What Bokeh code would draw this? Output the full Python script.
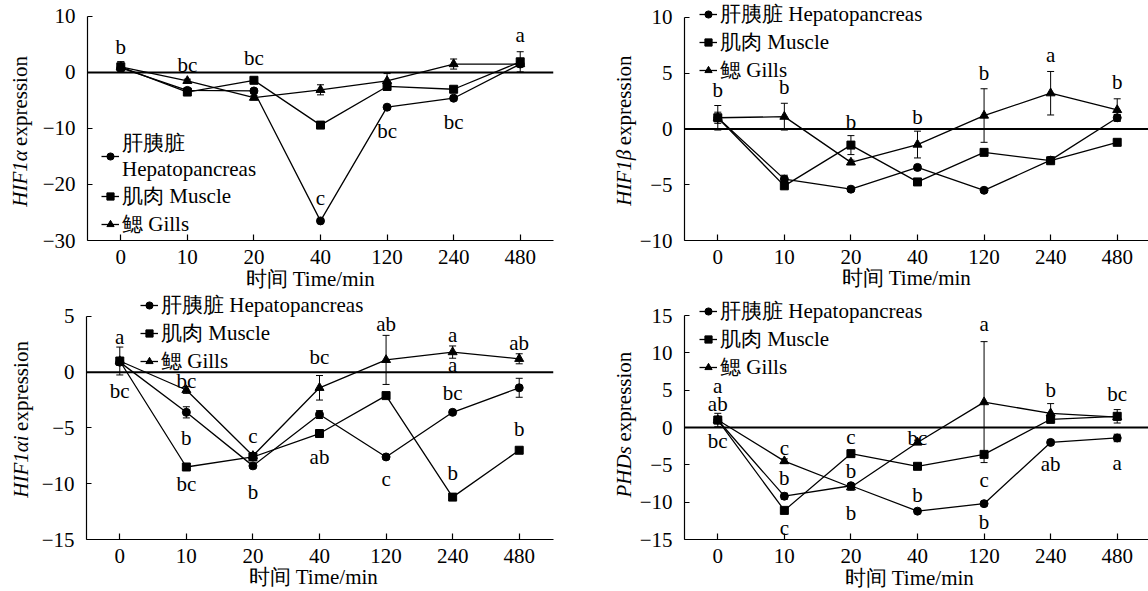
from bokeh.plotting import figure
from bokeh.models import (Range1d, FixedTicker, Span, Whisker, TeeHead, ColumnDataSource,
                          Label, Legend, LegendItem)
from bokeh.layouts import column, row
from bokeh.embed import file_html
from bokeh.resources import INLINE
from bokeh.core.properties import value

FONT = "Liberation Serif"
FS = "21px"

# ---------------- data ----------------
times = ["0", "10", "20", "40", "120", "240", "480"]
names = ["肝胰脏 Hepatopancreas", "肌肉 Muscle", "鳃 Gills"]
names_p1 = ["肝胰脏\nHepatopancreas", "肌肉 Muscle", "鳃 Gills"]

# Panel 1: HIF1α
hep1 = [0.8, -3.2, -3.3, -26.5, -6.2, -4.6, 1.5]
mus1 = [1.0, -3.5, -1.4, -9.4, -2.5, -3.0, 1.9]
gil1 = [1.0, -1.5, -4.5, -3.1, -1.5, 1.5, 1.5]
hep1_sd = [0.3, 0.3, 0.4, 0.4, 0.3, 0.4, 0.4]
mus1_sd = [0.9, 0.3, 0.3, 0.4, 0.5, 0.4, 1.8]
gil1_sd = [0.9, 0.3, 0.4, 0.9, 1.3, 0.9, 0.5]
let1_i = [0, 1, 2, 3, 4, 5, 6]
let1_y = [4.6, 1.3, 2.5, -22.4, -10.5, -8.9, 6.6]
let1_t = ["b", "bc", "bc", "c", "bc", "bc", "a"]

# Panel 2: HIF1β
hep2 = [1.0, -4.5, -5.4, -3.45, -5.5, -2.8, 1.0]
mus2 = [1.0, -5.1, -1.45, -4.75, -2.1, -2.85, -1.2]
gil2 = [1.0, 1.1, -3.0, -1.4, 1.2, 3.2, 1.7]
hep2_sd = [0.3, 0.35, 0.2, 0.2, 0.2, 0.2, 0.3]
mus2_sd = [1.1, 0.3, 0.85, 0.2, 0.2, 0.2, 0.2]
gil2_sd = [0.5, 1.2, 0.2, 1.2, 2.4, 1.95, 1.0]
let2_i = [0, 1, 2, 3, 4, 5, 6]
let2_y = [3.5, 3.8, 0.65, 1.1, 5.0, 6.6, 4.25]
let2_t = ["b", "b", "b", "b", "b", "a", "b"]

# Panel 3: HIF1αi
hep3 = [0.9, -3.6, -8.4, -3.8, -7.6, -3.6, -1.4]
mus3 = [1.0, -8.5, -7.6, -5.5, -2.1, -11.2, -7.0]
gil3 = [1.0, -1.6, -7.5, -1.4, 1.1, 1.8, 1.2]
hep3_sd = [0.3, 0.5, 0.2, 0.35, 0.2, 0.2, 0.85]
mus3_sd = [1.25, 0.2, 0.2, 0.2, 0.2, 0.2, 0.2]
gil3_sd = [0.3, 0.3, 0.3, 1.1, 2.2, 0.55, 0.45]
let3_i = [0, 0, 1, 1, 1, 2, 2, 3, 3, 4, 4, 5, 5, 5, 5, 6, 6]
let3_y = [3.15, -1.7, -0.8, -5.9, -10.0, -5.7, -10.7, 1.4, -7.6, 4.3, -9.6,
          3.35, 0.6, -1.85, -9.05, 2.6, -5.1]
let3_t = ["a", "bc", "bc", "b", "bc", "c", "b", "bc", "ab", "ab", "c",
          "a", "a", "bc", "b", "ab", "b"]

# Panel 4: PHDs
hep4 = [1.0, -9.2, -7.8, -11.2, -10.2, -2.0, -1.4]
mus4 = [1.0, -11.1, -3.5, -5.2, -3.6, 1.1, 1.5]
gil4 = [1.0, -4.5, -8.0, -2.0, 3.4, 1.9, 1.4]
hep4_sd = [0.3, 0.4, 0.3, 0.3, 0.3, 0.3, 0.5]
mus4_sd = [0.9, 0.4, 0.3, 0.3, 0.3, 0.3, 0.9]
gil4_sd = [0.5, 0.3, 0.4, 0.3, 8.1, 1.3, 0.4]
let4_i = [0, 0, 0, 1, 1, 1, 2, 2, 2, 3, 3, 4, 4, 4, 5, 5, 6, 6]
let4_y = [5.6, 3.2, -1.8, -2.7, -6.8, -13.5, -1.25, -5.8, -11.5, -1.4, -9.1,
          13.8, -7.05, -12.6, 5.0, -4.9, 4.55, -4.8]
let4_t = ["a", "ab", "bc", "c", "b", "c", "c", "b", "b", "bc", "b",
          "a", "c", "b", "b", "ab", "bc", "a"]

MINUS = "\u2212"


def make_panel(geom, yr, yticks, series, sds, letters, gene, ylab_x, ylab_start,
               title_text, title_x, title_y, legend_labels, legend_vy, legend_vx):
    W, Hh, L, T, FW, FH = geom
    x1 = -0.5 + FW / 66.57
    y0, y1 = yr
    # extend the frame up to the top of the canvas so that legends are not clipped
    y_top = y1 + T * (y1 - y0) / FH
    right_border = W - L - FW
    p = figure(width=W, height=Hh, output_backend="svg", toolbar_location=None,
               x_range=Range1d(-0.5, x1), y_range=Range1d(y0, y_top),
               min_border_left=L, min_border_top=0,
               min_border_right=right_border, min_border_bottom=Hh - T - FH)
    p.outline_line_color = None
    p.xgrid.visible = False
    p.ygrid.visible = False
    p.background_fill_color = "white"
    p.border_fill_color = "white"

    xs = list(range(len(times)))
    for ax in (p.xaxis[0], p.yaxis[0]):
        ax.axis_line_color = "black"
        ax.axis_line_width = 1.2
        ax.major_tick_line_color = "black"
        ax.major_tick_line_width = 1.2
        ax.minor_tick_line_color = None
        ax.major_tick_out = 0
        ax.major_label_text_font = FONT
        ax.major_label_text_font_size = FS
        ax.major_label_text_color = "black"
    p.xaxis.ticker = FixedTicker(ticks=xs)
    p.xaxis.major_label_overrides = {i: t for i, t in zip(xs, times)}
    p.xaxis.major_tick_in = 6
    p.xaxis.major_label_standoff = 9
    p.yaxis.ticker = FixedTicker(ticks=yticks)
    p.yaxis.major_label_overrides = {t: (MINUS + str(-t) if t < 0 else str(t)) for t in yticks}
    p.yaxis.major_tick_in = 5
    p.yaxis.major_label_standoff = 12
    p.yaxis.bounds = (y0, y1)

    p.add_layout(Span(location=0, dimension="width", line_color="black", line_width=2))

    markers = ["circle", "square", "triangle"]
    msize = [8, 8, 9]
    items = []
    rends = []
    for k in range(3):
        y = series[k]
        sd = sds[k]
        src = ColumnDataSource(dict(x=xs, y=y,
                                    upper=[a + b for a, b in zip(y, sd)],
                                    lower=[a - b for a, b in zip(y, sd)]))
        lr = p.line("x", "y", source=src, line_color="black", line_width=1.3)
        p.add_layout(Whisker(source=src, base="x", upper="upper", lower="lower",
                             line_color="black", line_width=1,
                             upper_head=TeeHead(size=7, line_color="black", line_width=1),
                             lower_head=TeeHead(size=7, line_color="black", line_width=1)))
        rends.append((lr, src))
    for k in range(3):
        lr, src = rends[k]
        sr = p.scatter("x", "y", source=src, marker=markers[k], size=msize[k],
                       fill_color="black", line_color="black")
        items.append(LegendItem(label=legend_labels[k], renderers=[lr, sr]))

    li, ly, lt = letters
    p.text(x=li, y=ly, text=lt, text_font=value(FONT), text_font_size=FS,
           text_align="center", text_baseline="middle", text_color="black")

    # pixel -> data helpers (original frame geometry)
    def dx(px):
        return -0.5 + (px - L) * (x1 + 0.5) / FW

    def dy(py):
        return y1 - (py - T) * (y1 - y0) / FH

    gene_txt, gene_w = gene
    side2 = "right" if right_border >= 26 else "left"
    p.add_layout(Label(x=dx(ylab_x), y=dy(ylab_start), text=gene_txt, angle=1.5707963,
                       text_font=FONT, text_font_size=FS, text_font_style="italic",
                       text_align="left", text_baseline="middle", text_color="black"),
                 "left")
    p.add_layout(Label(x=dx(ylab_x), y=dy(ylab_start - gene_w - 5), text="expression",
                       angle=1.5707963, text_font=FONT, text_font_size=FS,
                       text_align="left", text_baseline="middle", text_color="black"),
                 side2)
    p.add_layout(Label(x=dx(title_x), y=dy(title_y), text=title_text,
                       text_font=FONT, text_font_size=FS,
                       text_align="left", text_baseline="middle", text_color="black"),
                 "below")

    leg = Legend(items=items, location=(legend_vx, legend_vy), label_text_font=FONT,
                 label_text_font_size=FS, label_text_color="black",
                 glyph_width=18, glyph_height=18,
                 label_height=20, label_standoff=3, spacing=0, padding=0,
                 margin=0, border_line_alpha=0, background_fill_alpha=0)
    p.add_layout(leg)
    return p


p1 = make_panel((580, 290, 87, 16, 466, 225), (-30, 10), [-30, -20, -10, 0, 10],
                [hep1, mus1, gil1], [hep1_sd, mus1_sd, gil1_sd],
                (let1_i, let1_y, let1_t), ("HIF1α", 56), 19, 207,
                "时间 Time/min", 245, 280, names_p1, 2, 14)
p2 = make_panel((568, 290, 104, 17, 464, 225), (-10, 10), [-10, -5, 0, 5, 10],
                [hep2, mus2, gil2], [hep2_sd, mus2_sd, gil2_sd],
                (let2_i, let2_y, let2_t), ("HIF1β", 56), 43, 207,
                "时间  Time/min", 261, 280, names, 156, 15)
p3 = make_panel((580, 301, 86, 26, 467, 224), (-15, 5), [-15, -10, -5, 0, 5],
                [hep3, mus3, gil3], [hep3_sd, mus3_sd, gil3_sd],
                (let3_i, let3_y, let3_t), ("HIF1αi", 62), 20, 208,
                "时间 Time/min", 248, 288, names, 164, 54)
p4 = make_panel((568, 301, 104, 25, 464, 224), (-15, 15), [-15, -10, -5, 0, 5, 10, 15],
                [hep4, mus4, gil4], [hep4_sd, mus4_sd, gil4_sd],
                (let4_i, let4_y, let4_t), ("PHDs", 51), 43, 207,
                "时间 Time/min", 264, 287, names, 158, 15)

layout = column(row(p1, p2), row(p3, p4))
open("out.html", "w").write(file_html(layout, INLINE))
